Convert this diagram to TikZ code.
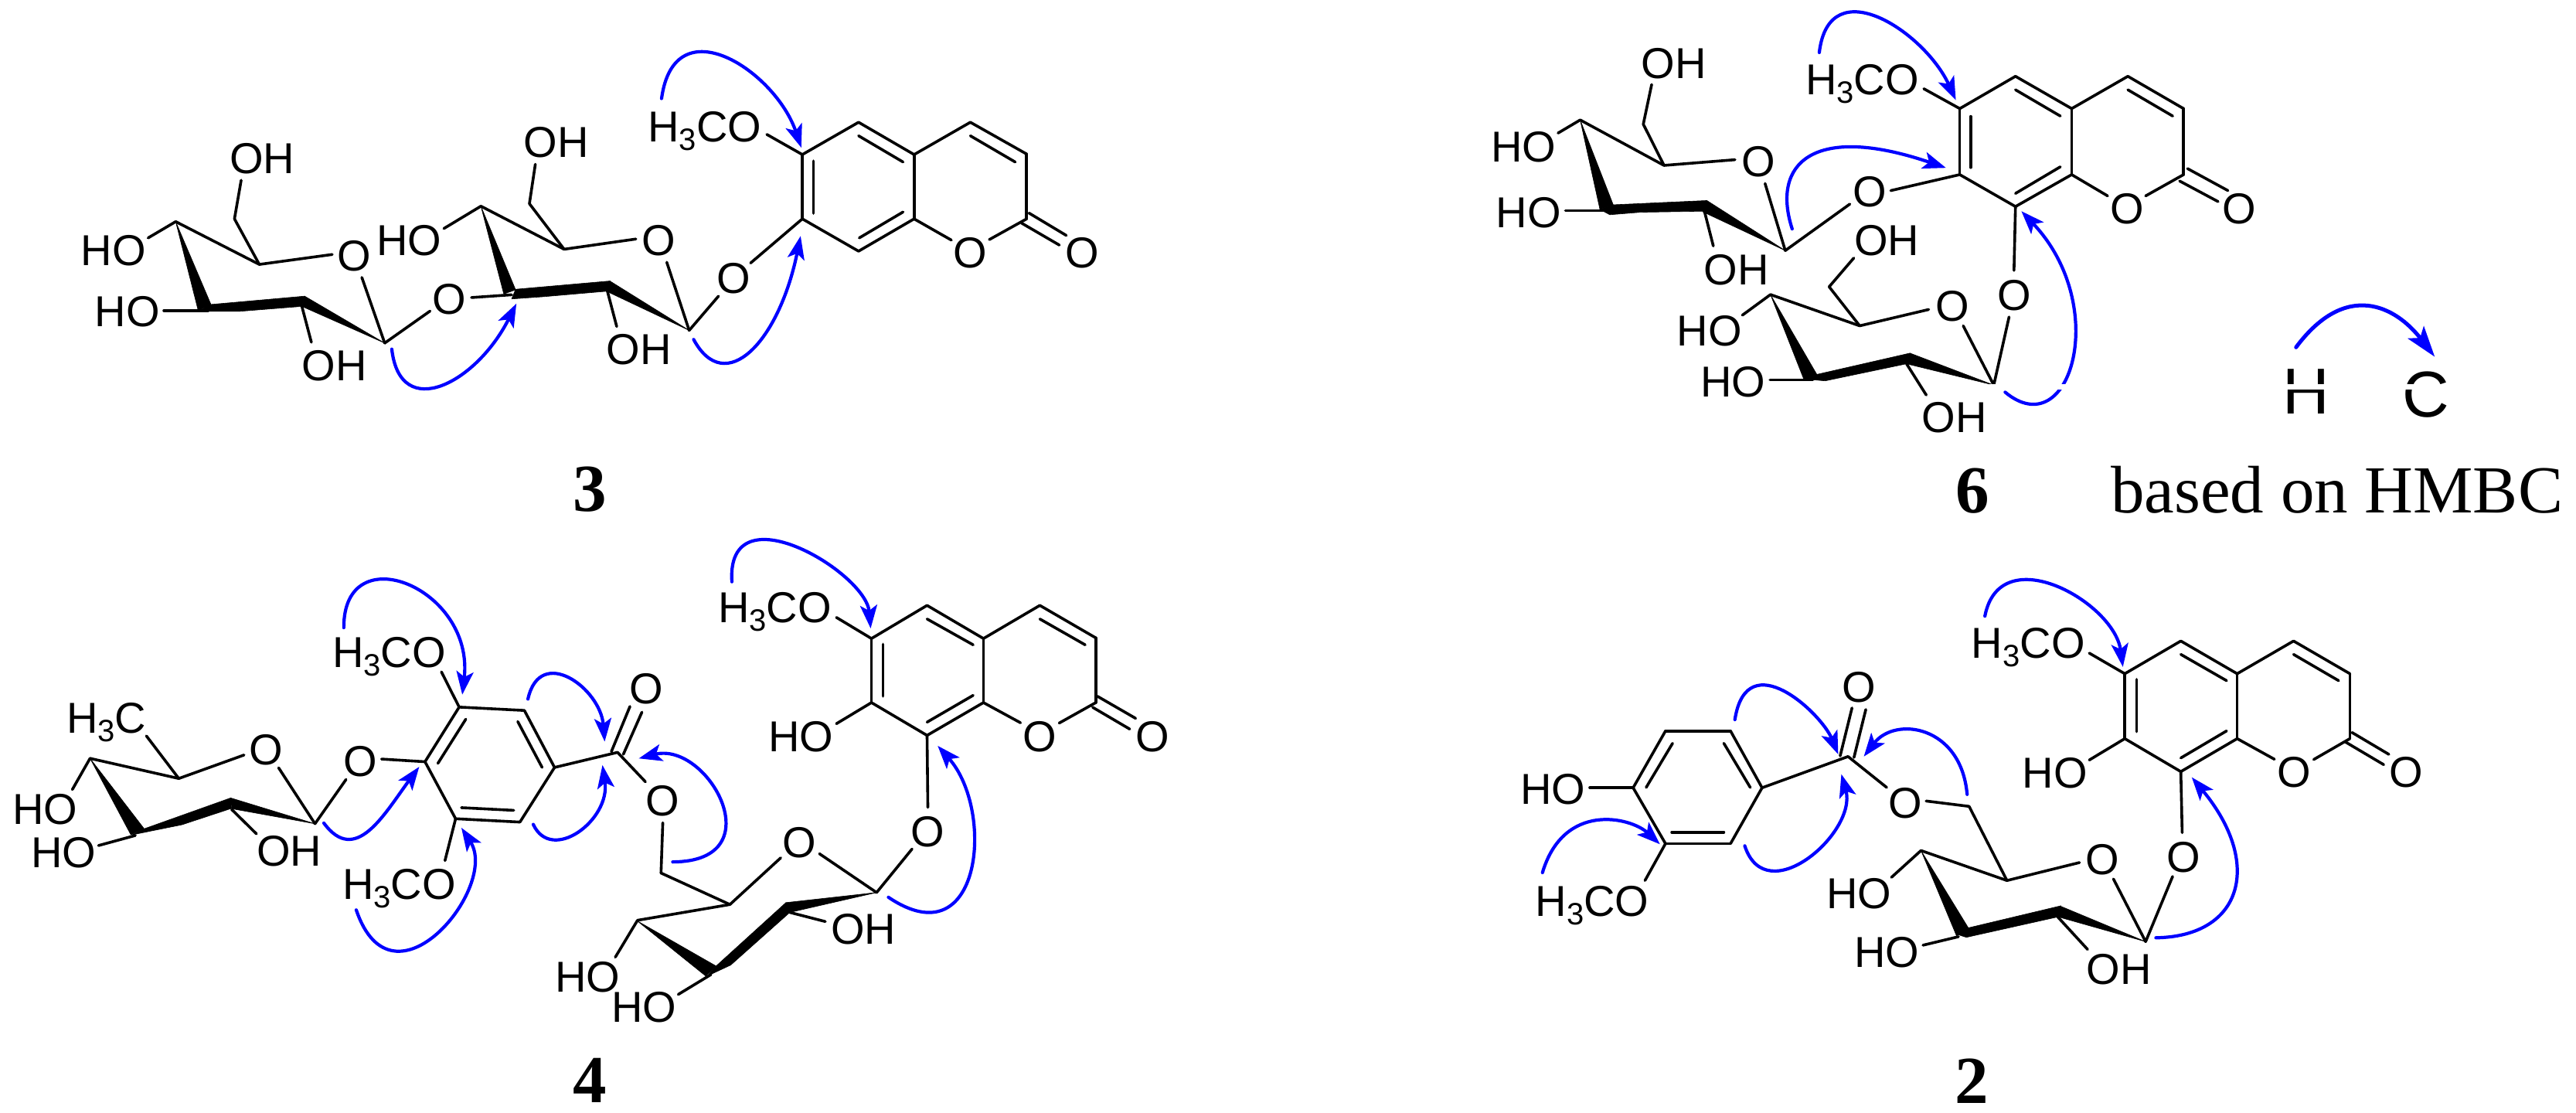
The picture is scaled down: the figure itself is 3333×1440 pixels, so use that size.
\documentclass[tikz,border=0pt]{standalone}
\usepackage{fontspec}
\setmainfont{Liberation Sans}
\newfontfamily\tms{Liberation Serif}
\usetikzlibrary{arrows.meta}
\newcommand{\atm}[2]{\coordinate (#1) at (#2);}
\newcommand{\lbl}[3]{\node[lab] (#1) at (#2) {#3};}
\newcommand{\three}{\raisebox{-11pt}{\fontsize{40}{40}\selectfont 3}}
\newcommand{\meo}{H\three CO}
\newcommand{\bonds}[1]{\foreach \p/\q in {#1}{\draw[bnd] (\p)--(\q);}}
% arc through four points: start, point near 1/3, point near 2/3, tip
\newcommand{\hb}[9]{%
 \pgfmathsetmacro\cpx{-0.8333*#2+3*#4-1.5*#6+0.3333*#8}%
 \pgfmathsetmacro\cpy{-0.8333*#3+3*#5-1.5*#7+0.3333*#9}%
 \pgfmathsetmacro\cqx{0.3333*#2-1.5*#4+3*#6-0.8333*#8}%
 \pgfmathsetmacro\cqy{0.3333*#3-1.5*#5+3*#7-0.8333*#9}%
 \atm{#1s}{#2,#3}\atm{#1e}{#8,#9}%
 \draw[hmbc] (#1s) .. controls (\cpx,\cpy) and (\cqx,\cqy) .. (#1e);}
\tikzset{
 bnd/.style={line width=3.6pt,line cap=round,line join=round,black},
 wdg/.style={fill=black,draw=black,line width=.6pt,line join=round},
 lab/.style={inner sep=0pt,font=\fontsize{56}{56}\selectfont,text height=40pt,text depth=0pt,anchor=center},
 num/.style={inner sep=0pt,font=\tms\bfseries\fontsize{87}{87}\selectfont,text height=58pt,text depth=0pt,anchor=center},
 hmbc/.style={draw=blue,line width=4.2pt,line cap=round,-{Stealth[length=30pt,width=22pt,inset=7pt]}},
 zA/.style={x=.5102pt,y=-.3571pt,xshift=60pt},
 zB/.style={x=.4464pt,y=-.3571pt,xshift=760pt},
 zC/.style={x=.6378pt,y=-.4592pt,xshift=1880pt},
 zD/.style={x=.574pt,y=-.4337pt,yshift=-760pt},
 zE/.style={x=.5102pt,y=-.4082pt,xshift=800pt,yshift=-720pt},
 zF/.style={x=.5102pt,y=-.4082pt,xshift=1960pt,yshift=-780pt},
 zG/.style={x=.442pt,y=-.3333pt,xshift=2640pt,yshift=-780pt},
 zH/.style={x=.4675pt,y=-.3333pt,xshift=2600pt,yshift=-360pt},
}
\begin{document}
\begin{tikzpicture}[x=1pt,y=-1pt]
\fill[white] (0,0) rectangle (3333,1440);
\useasboundingbox (0,0) rectangle (3333,1440);

% ---------- compound 3
\begin{scope}[zA]
\atm{a4}{328,803}\atm{a4e}{258,862}\lbl{a4o}{170,905}{HO}
\atm{a5}{540,958}\atm{a6}{477,793}\atm{a6e}{494,653}\lbl{a6o}{547,572}{OH}
\lbl{aO}{780,925}{O}\atm{aOl}{725,922}\atm{aOd}{800,1005}
\atm{a1}{858,1243}\atm{a1e}{973,1127}\lbl{gO}{1022,1083}{O}
\atm{a3e}{298,1125}\atm{a3}{410,1125}\lbl{a3o}{205,1128}{HO}
\atm{a2}{648,1110}\atm{a2e}{672,1240}\lbl{a2o}{730,1322}{OH}
\fill[wdg] (a4)--(418,1105)--(385,1125)--cycle;
\fill[wdg] (418,1103)--(655,1073)--(648,1110)--(490,1128)--(385,1128)--cycle;
\fill[wdg] (655,1073)--(a1)--(648,1110)--cycle;
\atm{g1}{1078,1078}\atm{b3}{1180,1068}
\atm{b4}{1102,747}\atm{b4e}{1008,828}\lbl{b4o}{920,870}{HO}
\atm{b6}{1225,738}\atm{b6e}{1240,595}\lbl{b6o}{1293,513}{OH}
\atm{b5}{1313,903}\atm{b5e}{1495,866}
\fill[wdg] (b4)--(1190,1050)--(1160,1065)--cycle;
\fill[wdg] (1190,1048)--(1430,1018)--(1422,1055)--(1260,1075)--(1180,1083)--cycle;
\hb{ha}{876}{1265}{945}{1405}{1070}{1330}{1192}{1100}
\end{scope}
\begin{scope}[zB]
\lbl{bO}{207,870}{O}\atm{bOd}{230,950}\atm{b1}{295,1197}\atm{b1e}{380,1073}\lbl{hO}{425,1007}{O}
\atm{b2}{58,1055}\atm{b2e}{85,1183}\lbl{b2o}{150,1265}{OH}
\fill[wdg] (65,1018)--(b1)--(55,1055)--cycle;
\atm{pC6}{623,560}\atm{pC5}{786,443}\atm{pC4a}{947,560}\atm{pC8a}{947,793}\atm{pC8}{786,910}\atm{pC7}{623,793}
\atm{pC4}{1110,443}\atm{pC3}{1273,558}\atm{pC2}{1273,793}\lbl{pO1}{1110,915}{O}\lbl{pOx}{1435,915}{O}
\atm{pi1}{786,492}\atm{pi2}{915,587}\atm{pi3}{915,768}\atm{pi4}{788,862}\atm{pi5}{655,583}\atm{pi6}{655,773}\atm{pi7}{1110,492}\atm{pi8}{1240,587}
\atm{po1}{1055,870}\atm{po2}{1165,868}\atm{pd1}{1280,772}\atm{pd2}{1388,853}\atm{pd3}{1258,808}\atm{pd4}{1368,888}
\lbl{pm}{340,457}{\meo}\atm{pme}{520,487}\atm{pg}{473,953}
\hb{hb}{215}{357}{320}{190}{490}{290}{620}{535}
\hb{hc}{308}{1230}{415}{1312}{530}{1170}{618}{855}
\end{scope}
\bonds{a4/a4e,a4/a5,a5/a6,a6/a6e,a5/aOl,aOd/a1,a1/a1e,a3e/a3,a2/a2e,g1/b3,b4/b4e,b4/b5,b5/b6,b6/b6e,b5/b5e,bOd/b1,b1/b1e,b2/b2e,
 pC6/pC5,pC5/pC4a,pC4a/pC8a,pC8a/pC8,pC8/pC7,pC7/pC6,pC4a/pC4,pC4/pC3,pC3/pC2,pi1/pi2,pi3/pi4,pi5/pi6,pi7/pi8,pC8a/po1,po2/pC2,pd1/pd2,pd3/pd4,pme/pC6,pg/pC7}

% ---------- compound 6
\begin{scope}[zC]
\atm{d4}{258,338}\atm{d4e}{213,375}\lbl{d4o}{143,412}{HO}
\atm{d5}{428,466}\atm{d6}{386,350}\atm{d6e}{403,238}\lbl{d6o}{448,177}{OH}
\lbl{dO}{620,455}{O}\atm{dOl}{572,450}\atm{dOd}{633,517}\atm{d1}{674,706}\atm{d1e}{805,575}\lbl{dg}{845,540}{O}\atm{dg1}{888,537}
\fill[wdg] (d4)--(325,577)--(298,590)--cycle;
\fill[wdg] (325,577)--(515,565)--(510,595)--(380,598)--(318,605)--(298,590)--cycle;
\fill[wdg] (515,565)--(d1)--(507,597)--cycle;
\atm{d3e}{228,593}\atm{d3}{310,593}\lbl{d3o}{153,597}{HO}
\atm{d2}{510,595}\atm{d2e}{528,693}\lbl{d2o}{575,760}{OH}
\atm{e4}{644,830}\atm{e4e}{587,888}\lbl{e4o}{520,930}{HO}
\atm{e6}{763,808}\atm{e6e}{813,727}\lbl{e6o}{880,677}{OH}
\atm{e5}{825,918}\atm{e5e}{965,872}\lbl{eO}{1013,862}{O}\atm{eOd}{1035,918}\atm{e1}{1097,1085}
\atm{e1e}{1128,893}\lbl{eg}{1138,830}{O}\atm{eg1}{1138,762}
\fill[wdg] (e4)--(738,1055)--(712,1070)--cycle;
\fill[wdg] (738,1055)--(927,995)--(920,1025)--(755,1073)--(715,1068)--cycle;
\fill[wdg] (927,995)--(e1)--(920,1025)--cycle;
\atm{e3e}{643,1070}\atm{e3}{730,1070}\lbl{e3o}{568,1075}{HO}
\atm{e2}{920,1025}\atm{e2e}{960,1113}\lbl{e2o}{1017,1175}{OH}
\atm{qC6}{1028,306}\atm{qC5}{1141,215}\atm{qC4a}{1255,306}\atm{qC8a}{1255,492}\atm{qC8}{1141,582}\atm{qC7}{1028,492}
\atm{qC4}{1369,215}\atm{qC3}{1482,306}\atm{qC2}{1482,492}\lbl{qO1}{1368,587}{O}\lbl{qOx}{1595,587}{O}
\atm{qi1}{1141,253}\atm{qi2}{1232,327}\atm{qi3}{1232,470}\atm{qi4}{1141,545}\atm{qi5}{1050,328}\atm{qi6}{1050,472}\atm{qi7}{1369,253}\atm{qi8}{1460,327}
\atm{qo1}{1328,552}\atm{qo2}{1405,552}\atm{qd1}{1490,475}\atm{qd2}{1572,537}\atm{qd3}{1474,510}\atm{qd4}{1552,568}
\lbl{qm}{830,223}{\meo}\atm{qme}{955,250}
\hb{hd}{743}{148}{810}{35}{925}{110}{1020}{282}
\hb{he}{688}{645}{690}{490}{790}{420}{1000}{473}
\hb{hf}{1120}{1105}{1228}{1100}{1255}{880}{1153}{595}
\end{scope}
\bonds{d4/d4e,d4/d5,d5/d6,d6/d6e,d5/dOl,dOd/d1,d1/d1e,dg1/qC7,d3e/d3,d2/d2e,e4/e4e,e6/e6e,e6/e5,e4/e5,e5/e5e,eOd/e1,e1/e1e,eg1/qC8,e3e/e3,e2/e2e,
 qC6/qC5,qC5/qC4a,qC4a/qC8a,qC8a/qC8,qC8/qC7,qC7/qC6,qC4a/qC4,qC4/qC3,qC3/qC2,qi1/qi2,qi3/qi4,qi5/qi6,qi7/qi8,qC8a/qo1,qo2/qC2,qd1/qd2,qd3/qd4,qme/qC6}

% ---------- compound 4
\begin{scope}[zD]
\lbl{fm}{240,388}{H\three C}\atm{fme}{330,443}\atm{f5}{403,570}
\atm{f4}{203,510}\atm{f4e}{163,603}\lbl{f4o}{102,660}{HO}
\lbl{fO}{600,482}{O}\atm{fOl}{550,500}\atm{fOd}{628,538}\atm{f1}{710,705}\atm{f1e}{780,573}\lbl{fg}{813,518}{O}\atm{fg1}{860,512}
\fill[wdg] (f4)--(325,720)--(295,738)--cycle;
\fill[wdg] (325,720)--(520,628)--(520,660)--(410,708)--(298,738)--cycle;
\fill[wdg] (520,628)--(f1)--(522,660)--cycle;
\atm{f3e}{222,770}\atm{f3}{305,740}\lbl{f3o}{143,790}{HO}
\atm{f2}{522,662}\atm{f2e}{578,735}\lbl{f2o}{652,785}{OH}
\atm{r1}{958,520}\atm{r2}{1035,357}\atm{r3}{1182,367}\atm{r4}{1250,537}\atm{r5}{1172,700}\atm{r6}{1027,690}
\atm{ri1}{987,525}\atm{ri2}{1050,393}\atm{ri3}{1167,400}\atm{ri4}{1222,537}\atm{ri5}{1158,665}\atm{ri6}{1040,657}
\lbl{rm1}{877,192}{\meo}\atm{rm1e}{995,252}\lbl{rm2}{900,885}{\meo}\atm{rm2e}{1003,815}
\atm{rC}{1392,492}\atm{rd1}{1378,490}\atm{rd2}{1420,355}\atm{rd3}{1405,498}\atm{rd4}{1447,372}\lbl{rOx}{1457,300}{O}
\atm{rOe}{1455,580}\lbl{rO}{1493,635}{O}\atm{rOd}{1494,702}\atm{sC}{1490,852}
\atm{s4}{1437,993}\atm{s4e}{1387,1103}\lbl{s4o}{1325,1160}{HO}\lbl{s3o}{1452,1250}{HO}
\hb{hg}{775}{120}{850}{-22}{985}{65}{1042}{320}
\hb{hh}{1190}{333}{1245}{258}{1320}{320}{1363}{460}
\hb{hi}{1202}{707}{1265}{750}{1335}{675}{1358}{530}
\hb{hj}{730}{703}{800}{748}{870}{670}{945}{535}
\hb{hk}{803}{962}{920}{1080}{1035}{930}{1040}{717}
\end{scope}
\begin{scope}[zE]
\atm{s5}{283,1103}\atm{s5e}{412,955}\lbl{sO}{460,905}{O}\atm{sOd}{510,942}\atm{s1}{655,1065}\atm{s1e}{745,927}\lbl{sg}{785,870}{O}\atm{sg1}{785,795}
\fill[wdg] (48,1155)--(248,1298)--(222,1330)--cycle;
\fill[wdg] (248,1298)--(425,1097)--(435,1128)--(285,1295)--(225,1330)--cycle;
\fill[wdg] (s1)--(425,1097)--(435,1128)--cycle;
\atm{s2}{435,1128}\atm{s2e}{525,1157}\lbl{s2o}{622,1180}{OH}
\atm{s3}{235,1325}\atm{s3e}{152,1388}
\atm{tC6}{642,260}\atm{tC5}{783,155}\atm{tC4a}{926,260}\atm{tC8a}{926,463}\atm{tC8}{783,567}\atm{tC7}{642,463}
\atm{tC4}{1069,155}\atm{tC3}{1211,258}\atm{tC2}{1211,463}\lbl{tO1}{1069,570}{O}\lbl{tOx}{1354,570}{O}
\atm{ti1}{783,198}\atm{ti2}{900,280}\atm{ti3}{900,440}\atm{ti4}{783,525}\atm{ti5}{671,278}\atm{ti6}{671,443}\atm{ti7}{1069,198}\atm{ti8}{1184,280}
\atm{to1}{1020,527}\atm{to2}{1118,528}\atm{td1}{1215,443}\atm{td2}{1312,513}\atm{td3}{1203,478}\atm{td4}{1297,547}
\atm{t7e}{553,530}\lbl{t7o}{463,570}{HO}\lbl{tm}{397,160}{\meo}\atm{tme}{553,193}
\hb{hl}{138}{968}{270}{870}{210}{700}{52}{640}
\hb{hm}{685}{1080}{855}{1090}{895}{860}{810}{600}
\hb{hn}{288}{80}{370}{-52}{540}{45}{640}{228}
\end{scope}
\bonds{fme/f5,f4/f4e,f4/f5,f5/fOl,fOd/f1,f1/f1e,fg1/r1,f3e/f3,f2/f2e,
 r1/r2,r2/r3,r3/r4,r4/r5,r5/r6,r6/r1,ri1/ri2,ri3/ri4,ri5/ri6,rm1e/r2,r6/rm2e,r4/rC,rd1/rd2,rd3/rd4,rC/rOe,rOd/sC,sC/s5,s4/s5,s4/s4e,s5/s5e,sOd/s1,s1/s1e,sg1/tC8,s2/s2e,s3/s3e,
 tC6/tC5,tC5/tC4a,tC4a/tC8a,tC8a/tC8,tC8/tC7,tC7/tC6,tC4a/tC4,tC4/tC3,tC3/tC2,ti1/ti2,ti3/ti4,ti5/ti6,ti7/ti8,tC8a/to1,to2/tC2,td1/td2,td3/td4,t7e/tC7,tme/tC6}

% ---------- compound 2
\begin{scope}[zF]
\lbl{u1o}{97,590}{HO}\atm{u1e}{190,586}
\atm{u1}{300,586}\atm{u2}{382,406}\atm{u3}{547,406}\atm{u4}{627,586}\atm{u5}{547,763}\atm{u6}{382,763}
\atm{ui1}{333,585}\atm{ui2}{400,445}\atm{ui3}{530,445}\atm{ui4}{597,585}\atm{ui5}{530,727}\atm{ui6}{398,727}
\atm{u6e}{330,880}\lbl{um}{196,945}{\meo}
\atm{uC}{845,487}\atm{ud1}{825,485}\atm{ud2}{855,333}\atm{ud3}{860,490}\atm{ud4}{890,338}\lbl{uOx}{873,265}{O}
\atm{uOe}{943,585}\lbl{uO}{990,633}{O}\atm{uOr}{1043,628}\atm{v6}{1152,645}\atm{v5}{1248,880}
\atm{v5e}{1432,823}\lbl{vO}{1490,812}{O}\atm{vOd}{1518,875}
\atm{v4}{1030,785}\atm{v4e}{955,870}\lbl{v4o}{873,920}{HO}
\fill[wdg] (v4)--(1150,1030)--(1120,1055)--cycle;
\fill[wdg] (1150,1030)--(1385,960)--(1378,995)--(1145,1060)--(1120,1050)--cycle;
\atm{v3e}{1035,1085}\atm{v3}{1125,1058}\lbl{v3o}{943,1107}{HO}
\lbl{w7o}{1370,538}{HO}\lbl{wm}{1302,125}{\meo}
\hb{ho}{1192}{42}{1295}{-72}{1450}{15}{1542}{203}
\hb{hp}{558}{370}{630}{262}{740}{340}{820}{480}
\hb{hq}{583}{770}{680}{845}{795}{730}{828}{543}
\hb{hr}{1147}{607}{1090}{450}{985}{412}{885}{487}
\hb{hs}{70}{855}{155}{712}{270}{700}{368}{765}
\end{scope}
\begin{scope}[zG]
\fill[wdg] (60,1178)--(308,1315)--(50,1218)--cycle;
\atm{v1}{308,1315}\atm{v1e}{387,1062}\lbl{vg}{418,985}{O}\atm{vg1}{415,892}
\atm{v2}{50,1218}\atm{v2e}{138,1345}\lbl{v2o}{230,1422}{OH}
\atm{wC6}{247,275}\atm{wC5}{411,148}\atm{wC4a}{576,275}\atm{wC8a}{576,527}\atm{wC8}{411,655}\atm{wC7}{247,527}
\atm{wC4}{741,148}\atm{wC3}{906,275}\atm{wC2}{906,527}\lbl{wO1}{742,657}{O}\lbl{wOx}{1070,657}{O}
\atm{wi1}{411,200}\atm{wi2}{545,302}\atm{wi3}{545,497}\atm{wi4}{411,602}\atm{wi5}{282,297}\atm{wi6}{282,500}\atm{wi7}{741,200}\atm{wi8}{873,302}
\atm{wo1}{685,607}\atm{wo2}{800,608}\atm{wd1}{912,503}\atm{wd2}{1020,588}\atm{wd3}{893,540}\atm{wd4}{1005,628}
\atm{w7e}{143,610}\atm{wme}{143,195}
\hb{ht}{338}{1300}{525}{1210}{565}{985}{443}{677}
\end{scope}
\bonds{u1e/u1,u1/u2,u2/u3,u3/u4,u4/u5,u5/u6,u6/u1,ui1/ui2,ui3/ui4,ui5/ui6,u6/u6e,u4/uC,ud1/ud2,ud3/ud4,uC/uOe,uOr/v6,v6/v5,v5/v5e,v4/v5,v4/v4e,vOd/v1,v3e/v3,v1/v1e,vg1/wC8,v2/v2e,
 wC6/wC5,wC5/wC4a,wC4a/wC8a,wC8a/wC8,wC8/wC7,wC7/wC6,wC4a/wC4,wC4/wC3,wC3/wC2,wi1/wi2,wi3/wi4,wi5/wi6,wi7/wi8,wC8a/wo1,wo2/wC2,wd1/wd2,wd3/wd4,w7e/wC7,wme/wC6}

% ---------- legend and numbers
\begin{scope}[zH,hmbc/.append style={line width=5pt,-{Stealth[length=40pt,width=26pt,inset=9pt]}}]
\node[lab,font=\fontsize{84}{84}\selectfont,text height=60pt] (lH) at (822,437) {H};
\node[lab,font=\fontsize{84}{84}\selectfont,text height=60pt] (lC) at (1153,448) {C};
\hb{hu}{793}{268}{930}{118}{1060}{150}{1177}{305}
\fill[white] (-55,411) rectangle (1300,433);
\end{scope}
\node[num] (n3) at (763,632) {3};
\node[num] (n6) at (2552,634) {6};
\node[num] (n4) at (763,1397) {4};
\node[num] (n2) at (2551,1398) {2};
\node[inner sep=0pt,anchor=base west,font=\tms\fontsize{87}{87}\selectfont] (cap) at (2731,663) {based on HMBC};
\end{tikzpicture}
\end{document}
